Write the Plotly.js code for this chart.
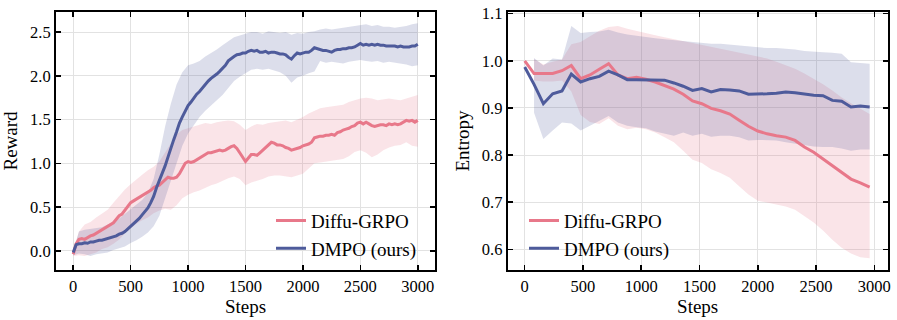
<!DOCTYPE html>
<html>
<head>
<meta charset="utf-8">
<script src="https://cdn.plot.ly/plotly-3.0.1.min.js"></script>
<style>
  html, body { margin: 0; padding: 0; background: #fff; }
  #chart { width: 897px; height: 320px; }
</style>
</head>
<body>
<div id="chart"></div>
<script>
// ---- left panel: reward (line every 25 steps, band every 50 steps)
const rewardGrpo = [
  -0.04, 0.08, 0.13, 0.14, 0.13, 0.15, 0.17, 0.18, 0.20, 0.21,
  0.23, 0.25, 0.27, 0.29, 0.32, 0.36, 0.40, 0.42, 0.46, 0.50,
  0.55, 0.57, 0.59, 0.61, 0.63, 0.64, 0.66, 0.69, 0.72, 0.74,
  0.75, 0.78, 0.82, 0.84, 0.83, 0.83, 0.84, 0.88, 0.94, 1.00,
  1.02, 1.01, 1.02, 1.04, 1.06, 1.07, 1.10, 1.12, 1.12, 1.13,
  1.14, 1.15, 1.14, 1.15, 1.17, 1.19, 1.20, 1.17, 1.12, 1.07,
  1.02, 1.06, 1.10, 1.10, 1.09, 1.12, 1.15, 1.19, 1.22, 1.24,
  1.23, 1.21, 1.21, 1.20, 1.18, 1.17, 1.15, 1.16, 1.17, 1.18,
  1.20, 1.21, 1.22, 1.24, 1.29, 1.30, 1.31, 1.31, 1.32, 1.32,
  1.33, 1.32, 1.35, 1.36, 1.38, 1.39, 1.40, 1.42, 1.43, 1.46,
  1.47, 1.45, 1.47, 1.45, 1.43, 1.42, 1.43, 1.44, 1.44, 1.43,
  1.45, 1.44, 1.45, 1.44, 1.45, 1.47, 1.49, 1.48, 1.49, 1.47,
  1.49
];
const rewardDmpo = [
  -0.02, 0.07, 0.08, 0.08, 0.09, 0.085, 0.10, 0.10, 0.11, 0.12,
  0.12, 0.13, 0.14, 0.145, 0.16, 0.17, 0.19, 0.20, 0.22, 0.25,
  0.28, 0.30, 0.33, 0.37, 0.41, 0.45, 0.49, 0.55, 0.62, 0.72,
  0.80, 0.88, 0.97, 1.07, 1.18, 1.27, 1.36, 1.46, 1.53, 1.60,
  1.66, 1.70, 1.75, 1.79, 1.82, 1.86, 1.91, 1.94, 1.97, 1.99,
  2.02, 2.05, 2.08, 2.12, 2.17, 2.20, 2.22, 2.24, 2.245, 2.26,
  2.26, 2.28, 2.29, 2.28, 2.29, 2.27, 2.27, 2.28, 2.26, 2.27,
  2.27, 2.26, 2.25, 2.25, 2.24, 2.21, 2.19, 2.23, 2.26, 2.25,
  2.26, 2.27, 2.27, 2.29, 2.32, 2.31, 2.30, 2.29, 2.29, 2.28,
  2.27, 2.29, 2.30, 2.30, 2.31, 2.31, 2.32, 2.32, 2.33, 2.35,
  2.37, 2.35, 2.36, 2.35, 2.36, 2.35, 2.36, 2.35, 2.35, 2.34,
  2.34, 2.34, 2.34, 2.33, 2.34, 2.33, 2.33, 2.33, 2.34, 2.34,
  2.36
];
const grpoHi = [
  0.00, 0.22, 0.30, 0.33, 0.38, 0.43, 0.47, 0.55, 0.63, 0.70,
  0.76, 0.82, 0.87, 0.92, 0.96, 1.02, 1.12, 1.22, 1.33, 1.38,
  1.40, 1.42, 1.44, 1.46, 1.45, 1.47, 1.48, 1.49, 1.48, 1.44,
  1.38, 1.42, 1.45, 1.44, 1.46, 1.47, 1.48, 1.49, 1.47, 1.50,
  1.53, 1.57, 1.60, 1.63, 1.64, 1.65, 1.66, 1.67, 1.70, 1.72,
  1.74, 1.75, 1.74, 1.72, 1.73, 1.74, 1.73, 1.72, 1.74, 1.76,
  1.78
];
const grpoLo = [
  -0.06, -0.05, -0.06, -0.04, -0.02, 0.02, 0.04, 0.08, 0.13, 0.20,
  0.26, 0.31, 0.35, 0.38, 0.43, 0.46, 0.48, 0.47, 0.52, 0.60,
  0.64, 0.67, 0.69, 0.72, 0.75, 0.77, 0.80, 0.83, 0.85, 0.82,
  0.75, 0.78, 0.80, 0.82, 0.85, 0.86, 0.86, 0.85, 0.84, 0.86,
  0.88, 0.94, 1.00, 1.01, 1.02, 1.03, 1.04, 1.05, 1.08, 1.13,
  1.15, 1.12, 1.07, 1.10, 1.15, 1.18, 1.20, 1.21, 1.24, 1.20,
  1.19
];
const dmpoHi = [
  0.00, 0.22, 0.24, 0.25, 0.26, 0.27, 0.30, 0.33, 0.37, 0.42,
  0.47, 0.52, 0.58, 0.66, 0.82, 1.10, 1.42, 1.68, 1.90, 2.04,
  2.12, 2.14, 2.17, 2.22, 2.26, 2.30, 2.35, 2.40, 2.44, 2.46,
  2.48, 2.50, 2.50, 2.48, 2.51, 2.50, 2.49, 2.50, 2.47, 2.49,
  2.48, 2.50, 2.51, 2.53, 2.54, 2.53, 2.54, 2.55, 2.56, 2.57,
  2.58, 2.59, 2.57, 2.58, 2.56, 2.56, 2.55, 2.56, 2.57, 2.59,
  2.60
];
const dmpoLo = [
  -0.05, -0.03, -0.04, -0.06, -0.04, -0.03, -0.02, 0.01, 0.03, 0.05,
  0.09, 0.12, 0.16, 0.21, 0.28, 0.40, 0.60, 0.80, 1.02, 1.20,
  1.34, 1.44, 1.53, 1.60, 1.66, 1.71, 1.78, 1.86, 1.94, 1.99,
  2.03, 2.07, 2.08, 2.07, 2.08, 2.06, 2.04, 2.00, 1.92, 1.98,
  2.00, 2.03, 2.05, 2.17, 2.15, 2.16, 2.15, 2.14, 2.16, 2.17,
  2.18, 2.17, 2.16, 2.17, 2.15, 2.16, 2.15, 2.14, 2.13, 2.11,
  2.12
];

// ---- right panel: entropy (every 80 steps, band starts at 80)
const entSteps = [
  0, 80, 160, 240, 320, 400, 480, 560, 640, 720, 800, 880, 960,
  1040, 1120, 1200, 1280, 1360, 1440, 1520, 1600, 1680, 1760, 1840,
  1920, 2000, 2080, 2160, 2240, 2320, 2400, 2480, 2560, 2640, 2720,
  2800, 2880, 2960
];
const entGrpo = [
  1.000, 0.973, 0.973, 0.973, 0.979, 0.990, 0.962, 0.970, 0.982, 0.994,
  0.970, 0.962, 0.965, 0.961, 0.955, 0.948, 0.940, 0.929, 0.915, 0.909,
  0.899, 0.894, 0.887, 0.874, 0.861, 0.851, 0.845, 0.841, 0.838, 0.831,
  0.817, 0.806, 0.792, 0.777, 0.763, 0.749, 0.741, 0.732
];
const entDmpo = [
  0.987, 0.950, 0.909, 0.930, 0.936, 0.972, 0.955, 0.962, 0.967, 0.978,
  0.970, 0.960, 0.960, 0.960, 0.960, 0.959, 0.953, 0.946, 0.937, 0.941,
  0.934, 0.939, 0.938, 0.936, 0.929, 0.929, 0.930, 0.931, 0.934, 0.932,
  0.929, 0.927, 0.926, 0.916, 0.914, 0.902, 0.904, 0.902
];
const entGrpoHi = [
  1.004, 0.992, 0.998, 1.003, 1.035, 1.040, 1.052, 1.064, 1.072, 1.074,
  1.068, 1.063, 1.058, 1.054, 1.050, 1.046, 1.041, 1.037, 1.034, 1.030,
  1.026, 1.022, 1.018, 1.014, 1.010, 1.005, 0.998, 0.990, 0.983, 0.973,
  0.962, 0.950, 0.937, 0.922, 0.910, 0.898, 0.887
];
const entGrpoLo = [
  0.958, 0.956, 0.956, 0.958, 0.935, 0.885, 0.870, 0.866, 0.878, 0.862,
  0.855, 0.858, 0.855, 0.848, 0.838, 0.827, 0.809, 0.790, 0.783, 0.770,
  0.762, 0.752, 0.734, 0.716, 0.703, 0.699, 0.695, 0.691, 0.684, 0.671,
  0.657, 0.640, 0.620, 0.603, 0.591, 0.583, 0.581
];
const entDmpoHi = [
  1.006, 0.990, 1.005, 1.003, 1.074, 1.059, 1.061, 1.062, 1.066, 1.060,
  1.056, 1.053, 1.050, 1.048, 1.046, 1.044, 1.042, 1.040, 1.038, 1.036,
  1.036, 1.034, 1.032, 1.030, 1.028, 1.027, 1.027, 1.026, 1.024, 1.021,
  1.019, 1.018, 1.017, 1.015, 0.997, 0.996, 0.994
];
const entDmpoLo = [
  0.890, 0.834, 0.852, 0.869, 0.867, 0.852, 0.862, 0.873, 0.883, 0.869,
  0.862, 0.859, 0.857, 0.850, 0.845, 0.841, 0.848, 0.841, 0.845, 0.839,
  0.841, 0.841, 0.838, 0.831, 0.832, 0.832, 0.831, 0.827, 0.824, 0.820,
  0.818, 0.817, 0.817, 0.814, 0.809, 0.812, 0.812
];

const names = ['Diffu-GRPO', 'DMPO (ours)'];
const xTicks = [0, 500, 1000, 1500, 2000, 2500, 3000];

const lineSteps = rewardGrpo.map((_, i) => i * 25);
const bandSteps = grpoHi.map((_, i) => i * 50);
const entBandSteps = entSteps.slice(1);

const RED = '#e8788a';
const BLUE = '#4e5b9b';
const RED_FILL = 'rgba(232,120,138,0.2)';
const BLUE_FILL = 'rgba(78,91,155,0.2)';
const FONT = 'Liberation Serif, Times New Roman, serif';

function band(x, lo, hi, fill, xa, ya) {
    return [
        { x: x, y: lo, xaxis: xa, yaxis: ya, mode: 'lines', line: { width: 0 },
          showlegend: false, hoverinfo: 'skip' },
        { x: x, y: hi, xaxis: xa, yaxis: ya, mode: 'lines', line: { width: 0 },
          fill: 'tonexty', fillcolor: fill, showlegend: false, hoverinfo: 'skip' }
    ];
}

function line(x, y, color, name, xa, ya, leg) {
    return { x: x, y: y, xaxis: xa, yaxis: ya, mode: 'lines', name: name,
             line: { color: color, width: 3 }, legend: leg };
}

const data = [].concat(
    band(bandSteps, grpoLo, grpoHi, RED_FILL, 'x', 'y'),
    band(bandSteps, dmpoLo, dmpoHi, BLUE_FILL, 'x', 'y'),
    [line(lineSteps, rewardGrpo, RED, names[0], 'x', 'y', 'legend'),
     line(lineSteps, rewardDmpo, BLUE, names[1], 'x', 'y', 'legend')],
    band(entBandSteps, entGrpoLo, entGrpoHi, RED_FILL, 'x2', 'y2'),
    band(entBandSteps, entDmpoLo, entDmpoHi, BLUE_FILL, 'x2', 'y2'),
    [line(entSteps, entGrpo, RED, names[0], 'x2', 'y2', 'legend2'),
     line(entSteps, entDmpo, BLUE, names[1], 'x2', 'y2', 'legend2')]
);

const axisBase = {
    showline: true, linecolor: 'black', linewidth: 2, mirror: 'ticks',
    ticks: 'inside', ticklen: 5, tickwidth: 1.5, tickcolor: 'black',
    showgrid: true, gridcolor: '#e2e2e2', gridwidth: 1,
    zeroline: false,
    tickfont: { family: FONT, size: 16.5, color: 'black' }
};
const titleFont = { family: FONT, size: 19, color: 'black' };
const legendBase = {
    bgcolor: 'rgba(0,0,0,0)', borderwidth: 0, traceorder: 'normal',
    font: { family: FONT, size: 19, color: 'black' },
    xanchor: 'left', yanchor: 'top', tracegroupgap: 0
};

const layout = {
    width: 897, height: 320,
    margin: { l: 0, r: 0, t: 12, b: 50 },
    paper_bgcolor: 'white', plot_bgcolor: 'white',
    xaxis: Object.assign({}, axisBase, {
        domain: [56 / 897, 435 / 897], range: [-150, 3150], anchor: 'y',
        tickvals: xTicks, title: { text: 'Steps', font: titleFont, standoff: 5 }
    }),
    yaxis: Object.assign({}, axisBase, {
        range: [-0.22, 2.729], anchor: 'x', dtick: 0.5, tick0: 0, tickformat: '.1f',
        title: { text: 'Reward', font: titleFont, standoff: 7 }
    }),
    xaxis2: Object.assign({}, axisBase, {
        domain: [507.7 / 897, 887.7 / 897], range: [-146, 3115], anchor: 'y2',
        tickvals: xTicks, title: { text: 'Steps', font: titleFont, standoff: 5 }
    }),
    yaxis2: Object.assign({}, axisBase, {
        range: [0.556, 1.1036], anchor: 'x2', dtick: 0.1, tick0: 0.6, tickformat: '.1f',
        title: { text: 'Entropy', font: titleFont, standoff: 7 }
    }),
    legend: Object.assign({}, legendBase, { x: 271 / 897, y: 0.265 }),
    legend2: Object.assign({}, legendBase, { x: 524 / 897, y: 0.265 }),
    showlegend: true
};

Plotly.newPlot('chart', data, layout, { staticPlot: true, displayModeBar: false });
</script>
</body>
</html>
